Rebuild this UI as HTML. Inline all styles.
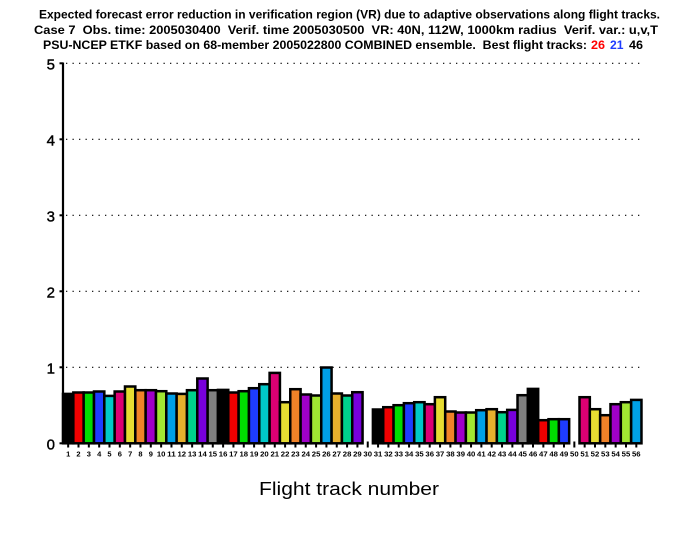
<!DOCTYPE html>
<html><head><meta charset="utf-8"><style>
html,body{margin:0;padding:0;background:#fff;}
svg{display:block;}
text{font-family:"Liberation Sans",sans-serif;white-space:pre;}
</style></head><body>
<svg width="700" height="540" viewBox="0 0 700 540" xmlns="http://www.w3.org/2000/svg">
<rect width="700" height="540" fill="#fff"/>
<g font-weight="bold" font-size="11.5" fill="#000">
<text x="39" y="18.5" textLength="621" lengthAdjust="spacingAndGlyphs">Expected forecast error reduction in verification region (VR) due to adaptive observations along flight tracks.</text>
<text x="34" y="34" textLength="624" lengthAdjust="spacingAndGlyphs">Case 7  Obs. time: 2005030400  Verif. time 2005030500  VR: 40N, 112W, 1000km radius  Verif. var.: u,v,T</text>
<text x="43" y="49" textLength="544" lengthAdjust="spacingAndGlyphs">PSU-NCEP ETKF based on 68-member 2005022800 COMBINED ensemble.  Best flight tracks:</text>
<text x="591" y="49" textLength="14" lengthAdjust="spacingAndGlyphs" fill="#ff0000">26</text>
<text x="610" y="49" textLength="13.5" lengthAdjust="spacingAndGlyphs" fill="#1e3cff">21</text>
<text x="629" y="49" textLength="14" lengthAdjust="spacingAndGlyphs">46</text>
</g>
<g stroke="#000" stroke-width="1.2" stroke-dasharray="1.3 5.2">
<line x1="66" y1="63.3" x2="640" y2="63.3"/>
<line x1="66" y1="139.3" x2="640" y2="139.3"/>
<line x1="66" y1="215.3" x2="640" y2="215.3"/>
<line x1="66" y1="291.3" x2="640" y2="291.3"/>
<line x1="66" y1="367.3" x2="640" y2="367.3"/>
</g>
<g font-size="15" text-anchor="end" fill="#000" stroke="#000" stroke-width="0.4">
<text x="55" y="69.3">5</text>
<text x="55" y="145.3">4</text>
<text x="55" y="221.3">3</text>
<text x="55" y="297.3">2</text>
<text x="55" y="373.3">1</text>
<text x="55" y="449.3">0</text>
</g>
<g id="bars" stroke="#000" stroke-width="2.5"></g>
<line x1="63" y1="62.5" x2="63" y2="444.3" stroke="#000" stroke-width="2.2"/>
<g stroke="#000" stroke-width="2">
<line x1="59.5" y1="63.3" x2="63" y2="63.3"/>
<line x1="59.5" y1="139.3" x2="63" y2="139.3"/>
<line x1="59.5" y1="215.3" x2="63" y2="215.3"/>
<line x1="59.5" y1="291.3" x2="63" y2="291.3"/>
<line x1="59.5" y1="367.3" x2="63" y2="367.3"/>
<line x1="59.5" y1="443.3" x2="63" y2="443.3"/>
</g>
<g id="ticks" stroke="#000" stroke-width="2"></g>
<g id="tlabels" font-size="7.5" font-weight="bold" text-anchor="middle" fill="#000"></g>
<text x="349" y="495" font-size="18" text-anchor="middle" textLength="180" lengthAdjust="spacingAndGlyphs">Flight track number</text>
<script>
(function(){
var ns="http://www.w3.org/2000/svg";
var cols=["#000000","#f00000","#00dc00","#1e3cff","#00c8c8","#dc0073","#e6dc32","#f08228","#a000c8","#a0e632","#00a0e6","#e6af2d","#00d28c","#7800dc","#808080"];
var tops={1:392.7,2:391.3,3:391.3,4:390.3,5:394.7,6:390.3,7:385.3,8:389,9:389,10:390,11:392.3,12:392.7,13:389,14:377.3,15:389,16:388.7,17:391.3,18:390,19:387,20:383,21:371.7,22:401,23:388,24:393.3,25:394.3,26:366.3,27:392.3,28:394.3,29:391,31:408.3,32:406,33:404,34:402,35:401,36:403,37:396,38:410.3,39:411.3,40:411.3,41:409,42:408,43:411,44:408.7,45:394,46:387.7,47:419,48:418,49:418,51:396,52:408,53:414,54:403,55:401,56:398.7};
var x0=63,w=10.33,base=443.3;
var bars=document.getElementById("bars"),ticks=document.getElementById("ticks"),tl=document.getElementById("tlabels");
for(var n=1;n<=56;n++){
 var xl=x0+(n-1)*w, xc=xl+w/2;
 if(tops[n]!==undefined){
  var r=document.createElementNS(ns,"rect");
  var y=tops[n]+1.2;
  r.setAttribute("x",xl.toFixed(2));r.setAttribute("y",y.toFixed(2));
  r.setAttribute("width",w.toFixed(2));r.setAttribute("height",(base-y).toFixed(2));
  r.setAttribute("fill",cols[(n-1)%15]);
  bars.appendChild(r);
 }
 var t=document.createElementNS(ns,"line");
 t.setAttribute("x1",xc.toFixed(2));t.setAttribute("x2",xc.toFixed(2));
 t.setAttribute("y1",tops[n]!==undefined?"444":"441.5");t.setAttribute("y2","447.5");
 ticks.appendChild(t);
 var lb=document.createElementNS(ns,"text");
 lb.setAttribute("x",xc.toFixed(2));lb.setAttribute("y","456.5");
 if(n>=10){lb.setAttribute("textLength","8.6");lb.setAttribute("lengthAdjust","spacingAndGlyphs");}
 lb.textContent=String(n);
 tl.appendChild(lb);
}
})();
</script>
</svg>
</body></html>
